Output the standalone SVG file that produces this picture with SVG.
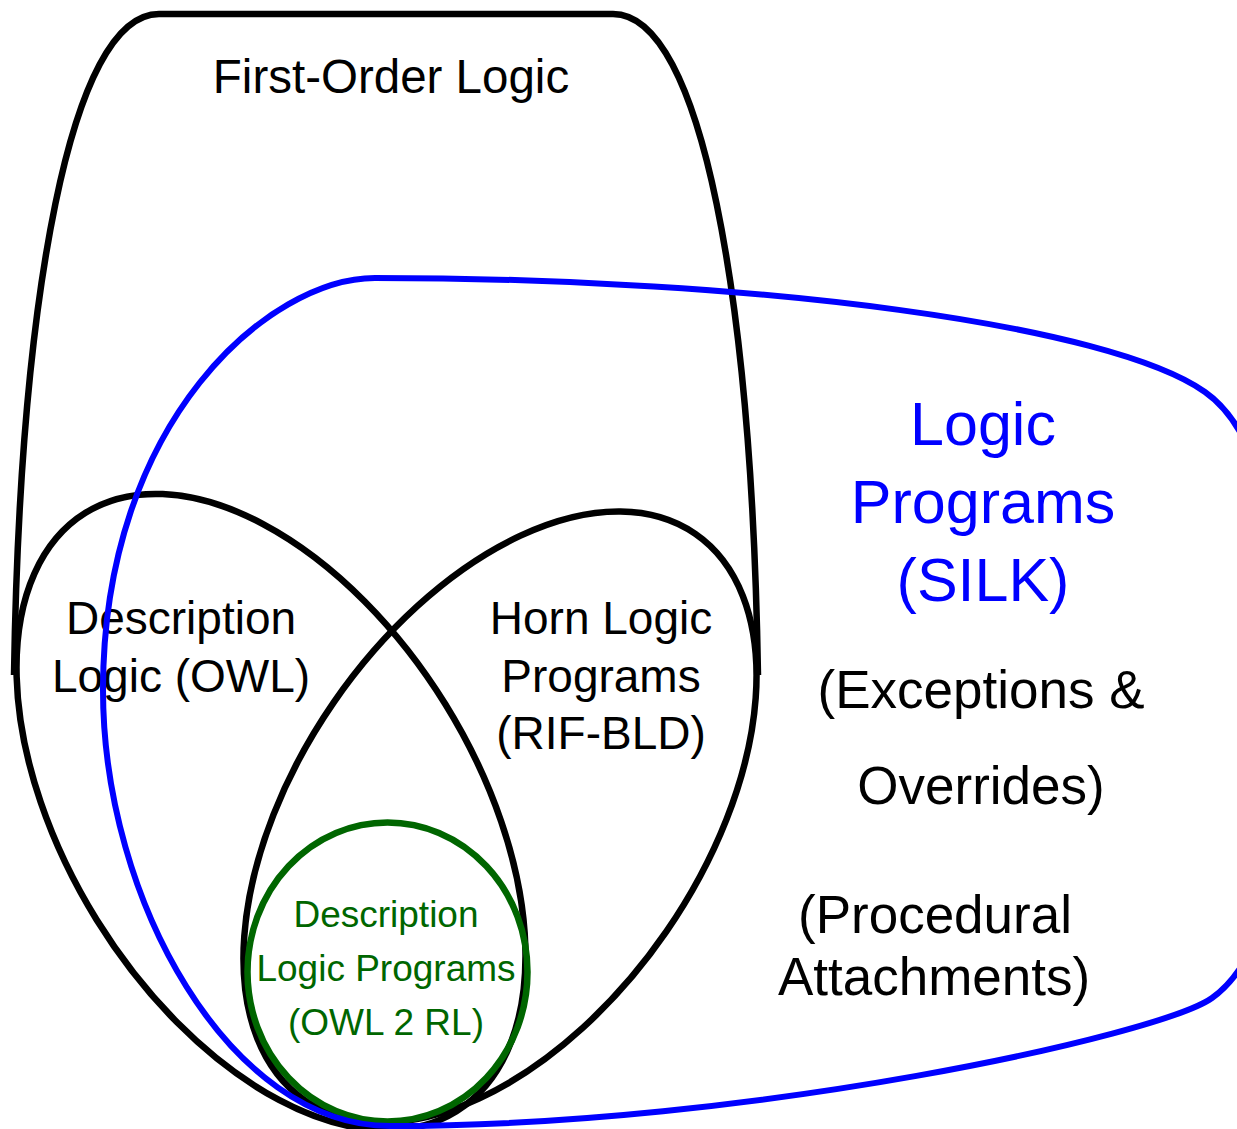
<svg xmlns="http://www.w3.org/2000/svg" width="1237" height="1129" viewBox="0 0 1237 1129">
  <style>
    .shape { fill: none; stroke-width: 6.5; }
    .black { stroke: #000000; }
    .blue { stroke: #0000ff; stroke-width: 6; }
    .green { stroke: #006600; }
    text { font-family: "Liberation Sans", Arial, sans-serif; text-anchor: middle; }
    .lbl { font-size: 46px; fill: #000000; }
    .fol { font-size: 47.5px; fill: #000000; }
    .silk { font-size: 61px; fill: #0000ff; }
    .note { font-size: 53px; fill: #000000; }
    .dlp { font-size: 37px; fill: #006600; }
  </style>
  <rect x="0" y="0" width="1237" height="1129" fill="#ffffff"/>

  <!-- First-order logic: open arch -->
  <g id="first-order-logic">
    <path class="shape black" d="M14,675 C20,300 70,14 159,14 L613,14 C702,14 752,300 758,675"/>
    <text class="fol" x="391" y="93">First-Order Logic</text>
  </g>

  <!-- Description logic (left leaf) -->
  <g id="description-logic">
    <ellipse class="shape black" cx="0" cy="0" rx="352" ry="205" transform="translate(271 812) rotate(58.2)"/>
    <text class="lbl" x="181" y="634">Description</text>
    <text class="lbl" x="181" y="692">Logic (OWL)</text>
  </g>

  <!-- Horn logic programs (right leaf) -->
  <g id="horn-logic">
    <ellipse class="shape black" cx="0" cy="0" rx="344" ry="202" transform="translate(500 817) rotate(-55.4)"/>
    <text class="lbl" x="601" y="634">Horn Logic</text>
    <text class="lbl" x="601" y="692">Programs</text>
    <text class="lbl" x="601" y="749">(RIF-BLD)</text>
  </g>

  <!-- Description logic programs (intersection) -->
  <g id="dlp">
    <ellipse class="shape green" cx="387.5" cy="972" rx="140" ry="149.5"/>
    <text class="dlp" x="386" y="927">Description</text>
    <text class="dlp" x="386" y="981">Logic Programs</text>
    <text class="dlp" x="386" y="1035">(OWL 2 RL)</text>
  </g>

  <!-- Logic programs (SILK) -->
  <g id="logic-programs">
    <path class="shape blue" d="M375,278 C760,278 1110,325 1205,392 C1262,432 1285,540 1285,700 C1285,880 1262,962 1212,998 C1160,1035 750,1126 390,1126 C230,1126 103,900 103,690 C103,420 270,278 375,278 Z"/>
    <text class="silk" x="983" y="445">Logic</text>
    <text class="silk" x="983" y="523">Programs</text>
    <text class="silk" x="983" y="601">(SILK)</text>
    <text class="note" x="981" y="708">(Exceptions &amp;</text>
    <text class="note" x="981" y="804">Overrides)</text>
    <text class="note" x="935" y="933">(Procedural</text>
    <text class="note" x="934" y="995">Attachments)</text>
  </g>
</svg>
